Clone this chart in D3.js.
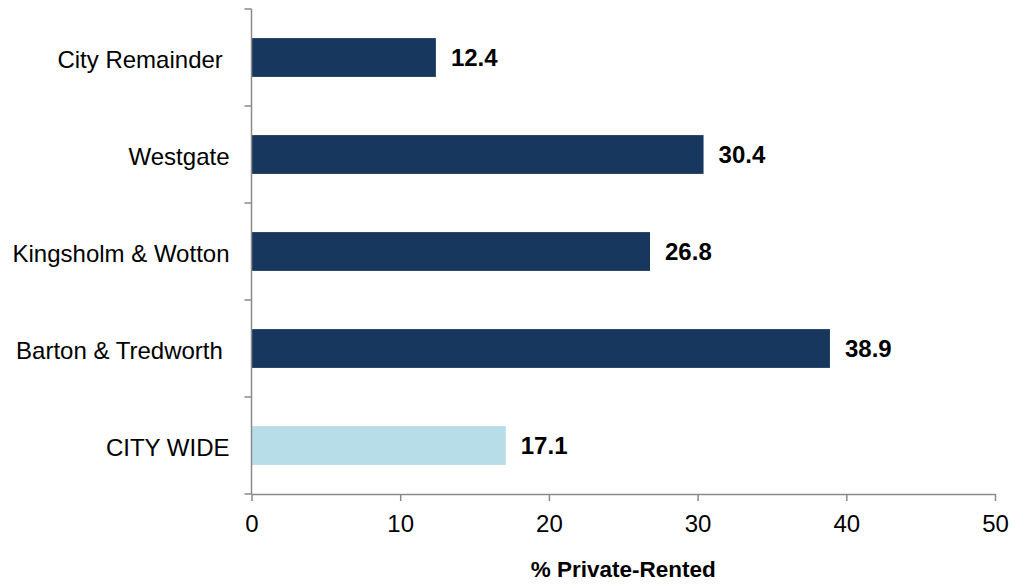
<!DOCTYPE html>
<html>
<head>
<meta charset="utf-8">
<script src="https://cdn.jsdelivr.net/npm/d3@7"></script>
<style>
  html, body { margin: 0; padding: 0; background: #fff; }
  svg { display: block; font-family: "Liberation Sans", Arial, sans-serif; }
  text { white-space: pre; }
</style>
</head>
<body>
<svg id="chart" width="1016" height="585"></svg>
<script>
const categories = ["City Remainder ", "Westgate", "Kingsholm & Wotton", "Barton & Tredworth ", "CITY WIDE"];
const values = [12.4, 30.4, 26.8, 38.9, 17.1];
const barColors = ["#17375E", "#17375E", "#17375E", "#17375E", "#B7DDE8"];
const xTicks = [0, 10, 20, 30, 40, 50];
const xTitle = "% Private-Rented";

const data = categories.map((c, i) => ({ cat: c, value: values[i], color: barColors[i] }));

const svg = d3.select("#chart");
const plotLeft = 251.5, plotRight = 995, plotTop = 9, plotBottom = 494;
const fs = 24;
const axisColor = "#8A8A8A";

const x = d3.scaleLinear().domain([0, 50]).range([plotLeft, plotRight]);
const y = d3.scaleBand().domain(categories).range([plotTop, plotBottom]).paddingInner(0.6).paddingOuter(0.3);

// Bars
svg.append("g").selectAll("rect").data(data).join("rect")
  .attr("x", x(0))
  .attr("y", d => y(d.cat))
  .attr("width", d => x(d.value) - x(0))
  .attr("height", y.bandwidth())
  .attr("fill", d => d.color);

// Value labels
svg.append("g").selectAll("text").data(data).join("text")
  .attr("x", d => x(d.value) + 15)
  .attr("y", d => y(d.cat) + y.bandwidth() / 2 + 8)
  .attr("font-size", fs)
  .attr("font-weight", "bold")
  .attr("fill", "#000")
  .text(d => d.value.toFixed(1));

// Y axis (line + ticks at band boundaries)
const gy = svg.append("g");
const step = y.step();
const r0 = y.range()[0];
gy.append("line")
  .attr("x1", plotLeft).attr("x2", plotLeft)
  .attr("y1", r0).attr("y2", y.range()[1])
  .attr("stroke", axisColor).attr("stroke-width", 1.5);
d3.range(categories.length + 1).forEach(i => {
  const yy = r0 + i * step;
  gy.append("line")
    .attr("x1", plotLeft - 7).attr("x2", plotLeft)
    .attr("y1", yy).attr("y2", yy)
    .attr("stroke", axisColor).attr("stroke-width", 1.5);
});
gy.selectAll("text.cat").data(categories).join("text")
  .attr("class", "cat")
  .attr("x", plotLeft - 22)
  .attr("y", d => y(d) + y.bandwidth() / 2 + 10)
  .attr("text-anchor", "end")
  .attr("font-size", fs)
  .attr("fill", "#000")
  .text(d => d);

// X axis
const xAxis = d3.axisBottom(x).tickValues(xTicks).tickSize(7).tickSizeOuter(0).tickPadding(14);
const gx = svg.append("g").attr("transform", `translate(0,${plotBottom})`).call(xAxis);
gx.select(".domain").attr("stroke", axisColor).attr("stroke-width", 1.5);
gx.selectAll(".tick line").attr("stroke", axisColor).attr("stroke-width", 1.5);
gx.selectAll(".tick text")
  .attr("font-size", fs)
  .attr("font-family", "\"Liberation Sans\", Arial, sans-serif")
  .attr("fill", "#000");

// Axis title
svg.append("text")
  .attr("x", (plotLeft + plotRight) / 2)
  .attr("y", 577)
  .attr("text-anchor", "middle")
  .attr("font-size", 22.5)
  .attr("font-weight", "bold")
  .attr("fill", "#000")
  .text(xTitle);
</script>
</body>
</html>
